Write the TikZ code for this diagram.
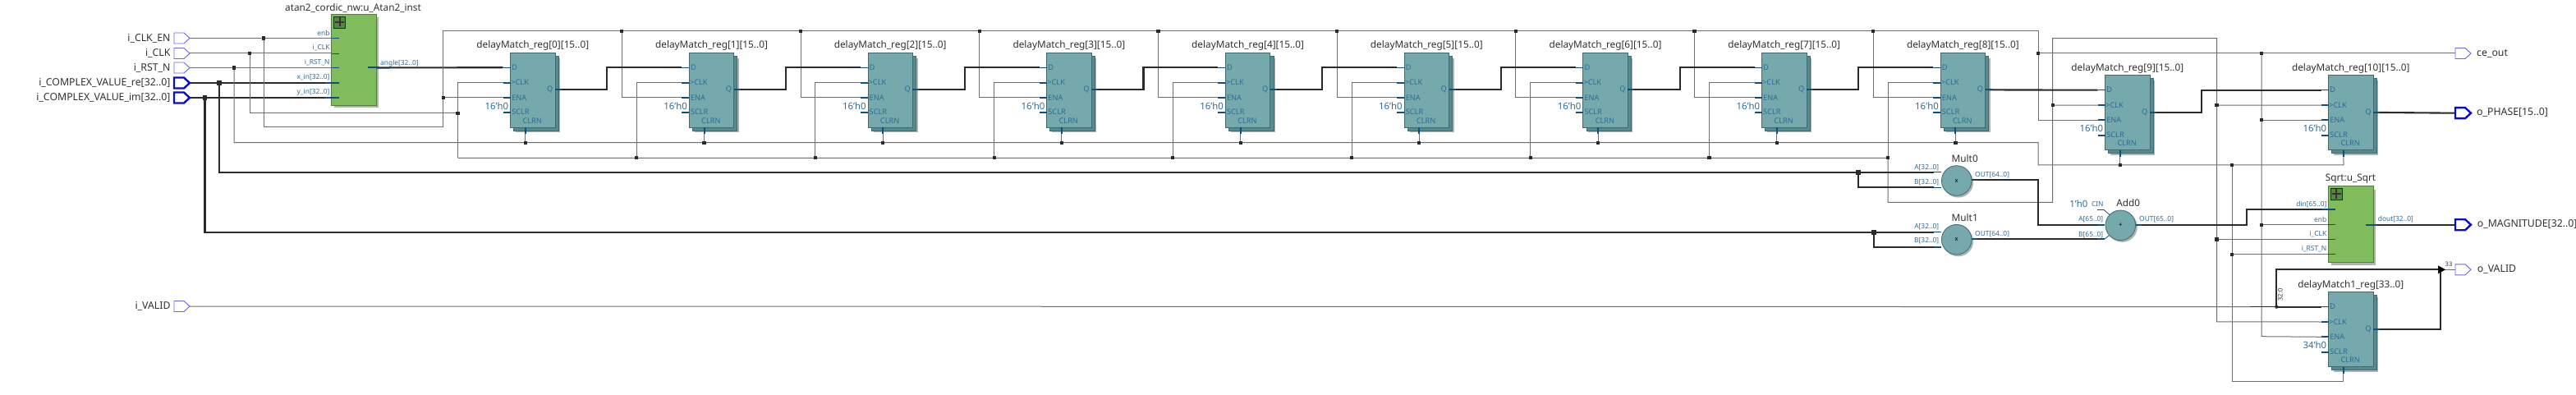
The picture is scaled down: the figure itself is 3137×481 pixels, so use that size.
\documentclass[tikz,border=0pt]{standalone}
\usepackage{fontspec}
\setmainfont{Noto Sans}
\usetikzlibrary{calc}
\pgfdeclarelayer{wires}
\pgfsetlayers{wires,main}
\definecolor{tealfill}{HTML}{75A9AC}
\definecolor{tealdark}{HTML}{568A8E}
\definecolor{tealedge}{HTML}{3F6A6E}
\definecolor{greenfill}{HTML}{80BC5C}
\definecolor{greenedge}{HTML}{4F7F3A}
\definecolor{portblue}{HTML}{2F6C96}
\definecolor{stubblue}{HTML}{0D4F7E}
\definecolor{wiregray}{HTML}{6E6E6E}
\definecolor{busdark}{HTML}{2A2A2A}
\definecolor{pinthin}{HTML}{6A66E0}
\definecolor{pinbus}{HTML}{0A0AD0}
\definecolor{titletext}{HTML}{303030}
\tikzset{
  wire/.style={draw=wiregray,line width=1pt},
  buswire/.style={draw=busdark,line width=2.1pt},
  stubthin/.style={draw=stubblue,line width=.8pt},
  stubmid/.style={draw=stubblue,line width=1.3pt},
  stubfat/.style={draw=stubblue,line width=2pt},
  regbox/.style={draw=tealedge,fill=tealfill,line width=.8pt,minimum width=54.4pt,minimum height=91pt,inner sep=0pt,outer sep=0pt,anchor=north west},
  regback/.style={draw=tealedge,fill=tealdark,line width=.6pt,minimum width=54.4pt,minimum height=91pt,inner sep=0pt,outer sep=0pt,anchor=north west},
  subbox/.style={draw=greenedge,fill=greenfill,line width=.8pt,inner sep=0pt,outer sep=0pt,anchor=north west},
  opcirc/.style={circle,draw=tealedge,fill=tealfill,line width=.8pt,minimum size=36.6pt,inner sep=0pt,outer sep=0pt},
  softshadow/.style={fill=black,fill opacity=.3},
  blocktitle/.style={text=titletext,font=\fontsize{11.8}{13}\selectfont,inner sep=0pt},
  pinlabel/.style={text=titletext,font=\fontsize{12.3}{13}\selectfont,inner sep=0pt},
  portlabel/.style={text=portblue,font=\fontsize{9.2}{10}\selectfont,inner sep=0pt},
  buslabel/.style={text=portblue,font=\fontsize{8.4}{9}\selectfont,inner sep=0pt},
  initlabel/.style={text=portblue,font=\fontsize{11.4}{12}\selectfont,inner sep=0pt},
  tinylabel/.style={text=titletext,font=\fontsize{7.6}{9}\selectfont,inner sep=0pt},
  pinthinstyle/.style={draw=pinthin,fill=white,line width=.9pt,line join=miter},
  pinbusstyle/.style={draw=pinbus,fill=white,line width=2.4pt,line join=miter},
  plusicon/.style={draw=black!75!green,line width=.7pt},
}
\newcommand{\jdot}[1]{\fill[busdark] ($(#1)+(-2.1,-2.1)$) rectangle ($(#1)+(2.1,2.1)$);}
\newcommand{\jbus}[1]{\fill[busdark] ($(#1)+(-2.9,-2.9)$) rectangle ($(#1)+(2.9,2.9)$);}
% name, x, y, title, init
\newcommand{\regblock}[5]{%
  \fill[softshadow] ({#2+6.5},{#3+6.5}) rectangle ({#2+60.6},{#3+97.2});
  \node[regback] (#1-back) at ({#2+4},{#3+4}) {};
  \node[regbox] (#1) at (#2,#3) {};
  \node[blocktitle] (#1-title) at ({#2+27.2},{#3-8.6}) {#4};
  \coordinate (#1-D) at ({#2-9},{#3+18});
  \coordinate (#1-CLK) at ({#2-9},{#3+36.4});
  \coordinate (#1-ENA) at ({#2-9},{#3+54.7});
  \coordinate (#1-SCLR) at ({#2-9},{#3+73.2});
  \coordinate (#1-Q) at ({#2+54.4},{#3+45.2});
  \coordinate (#1-R) at ({#2+18.2},{#3+91});
  \draw[stubmid] (#1-D) -- ++(9,0);
  \draw[stubfat] (#1-CLK) -- ++(9,0);
  \draw[stubfat] (#1-ENA) -- ++(9,0);
  \draw[stubfat] (#1-SCLR) -- ++(9,0);
  \draw[stubfat] (#1-Q) -- ++(8,0);
  \draw[stubfat] (#1-R) -- ++(0,8);
  \node[portlabel,anchor=west] (#1-lD) at ({#2+1.5},{#3+18}) {D};
  \node[portlabel,anchor=west] (#1-lC) at ({#2+.5},{#3+36.4}) {>CLK};
  \node[portlabel,anchor=west] (#1-lE) at ({#2+1.5},{#3+54.7}) {ENA};
  \node[portlabel,anchor=west] (#1-lS) at ({#2+1.5},{#3+72.4}) {SCLR};
  \node[portlabel] (#1-lR) at ({#2+26.6},{#3+82.8}) {CLRN};
  \node[portlabel,anchor=east] (#1-lQ) at ({#2+52},{#3+45.2}) {Q};
  \node[initlabel,anchor=east] (#1-init) at ({#2-2.2},{#3+65}) {#5};
}
% name, x, y  (pin body left edge / centre y), style, edge
\newcommand{\pinshape}[4]{%
  \draw[#4] (#2,{#3-6.5}) -- ({#2+12},{#3-6.5}) -- ({#2+19},#3) -- ({#2+12},{#3+6.5}) -- (#2,{#3+6.5}) -- cycle;
  \coordinate (#1-l) at (#2,#3);
  \coordinate (#1) at ({#2+19},#3);
}
\newcommand{\plusmark}[3]{%
  \draw[plusicon,fill=greenfill!70!black] (#2,#3) rectangle ({#2+14},{#3+14});
  \draw[draw=black!80,line width=1.6pt] ({#2+1.5},{#3+7}) -- ({#2+12.5},{#3+7});
  \draw[draw=black!80,line width=1.6pt] ({#2+7},{#3+1.5}) -- ({#2+7},{#3+12.5});
}
\begin{document}
\begin{tikzpicture}[x=1pt,y=-1pt]
\useasboundingbox (0,0) rectangle (3137,481);
\begin{pgfonlayer}{wires}
\fill[white] (0,0) rectangle (3137,481);
\end{pgfonlayer}

% ---------- pins ----------
\pinshape{pEn}{212}{46.5}{pinthinstyle}
\pinshape{pClk}{212}{65}{pinthinstyle}
\pinshape{pRst}{212}{82.5}{pinthinstyle}
\pinshape{pRe}{212}{101}{pinbusstyle}
\pinshape{pIm}{212}{119}{pinbusstyle}
\pinshape{pVal}{212}{373}{pinthinstyle}
\pinshape{pCe}{2990}{65}{pinthinstyle}
\pinshape{pPh}{2990}{137.7}{pinbusstyle}
\pinshape{pMag}{2990}{273.7}{pinbusstyle}
\pinshape{pOv}{2990}{328.3}{pinthinstyle}
\node[pinlabel,anchor=east] (tEn) at (207.7,46.5) {i\_CLK\_EN};
\node[pinlabel,anchor=east] (tClk) at (207.7,65) {i\_CLK};
\node[pinlabel,anchor=east] (tRst) at (207.7,82.5) {i\_RST\_N};
\node[pinlabel,anchor=east] (tRe) at (207.7,100.5) {i\_COMPLEX\_VALUE\_re[32..0]};
\node[pinlabel,anchor=east] (tIm) at (207.7,118.5) {i\_COMPLEX\_VALUE\_im[32..0]};
\node[pinlabel,anchor=east] (tVal) at (207.7,373) {i\_VALID};
\node[pinlabel,anchor=west] (tCe) at (3016,65) {ce\_out};
\node[pinlabel,anchor=west] (tPh) at (3016,137.2) {o\_PHASE[15..0]};
\node[pinlabel,anchor=west] (tMag) at (3016.7,273.2) {o\_MAGNITUDE[32..0]};
\node[pinlabel,anchor=west] (tOv) at (3016.7,328) {o\_VALID};

% ---------- atan2 block ----------
\fill[softshadow] (407,21) rectangle (461,131.5);
\node[subbox,minimum width=54.4pt,minimum height=111pt] (atan) at (403.7,17.2) {};
\plusmark{atanp}{406.7}{20}
\node[blocktitle] (atanT) at (430,10) {atan2\_cordic\_nw:u\_Atan2\_inst};
\coordinate (aEnb) at (412.7,46.5);
\coordinate (aClk) at (412.7,65);
\coordinate (aRst) at (412.7,82.5);
\coordinate (aX) at (412.7,101);
\coordinate (aY) at (412.7,119);
\coordinate (aOut) at (448,82.5);
\draw[stubthin] (aEnb) -- ++(-9,0);
\draw[stubthin] (aClk) -- ++(-9,0);
\draw[stubthin] (aRst) -- ++(-9,0);
\draw[stubfat] (aX) -- ++(-17,0);
\draw[stubfat] (aY) -- ++(-17,0);
\draw[stubfat] (aOut) -- ++(14,0);
\node[buslabel,anchor=east] (laEn) at (401.7,40) {enb};
\node[buslabel,anchor=east] (laCl) at (401.7,58.5) {i\_CLK};
\node[buslabel,anchor=east] (laRs) at (401.7,76.5) {i\_RST\_N};
\node[buslabel,anchor=east] (laX) at (401.7,94) {x\_in[32..0]};
\node[buslabel,anchor=east] (laY) at (401.7,112.5) {y\_in[32..0]};
\node[buslabel,anchor=west] (laO) at (463,77) {angle[32..0]};

% ---------- registers ----------
\foreach \i in {0,...,8}{
  \pgfmathsetmacro{\xx}{621.6+217.7*\i}
  \regblock{r\i}{\xx}{64.2}{delayMatch\_reg[\i][15..0]}{16'h0}
}
\regblock{r9}{2563.6}{91.7}{delayMatch\_reg[9][15..0]}{16'h0}
\regblock{r10}{2835.6}{91.7}{delayMatch\_reg[10][15..0]}{16'h0}
\regblock{rv}{2835.6}{355.6}{delayMatch1\_reg[33..0]}{34'h0}

% ---------- sqrt ----------
\fill[softshadow] (2839,231) rectangle (2893,322.5);
\node[subbox,minimum width=54.4pt,minimum height=92.5pt] (sq) at (2835.6,226.8) {};
\plusmark{sqp}{2838}{229}
\node[blocktitle] (sqT) at (2862.5,218) {Sqrt:u\_Sqrt};
\coordinate (sDin) at (2844,255.3);
\coordinate (sEnb) at (2844,273.7);
\coordinate (sClk) at (2844,291.5);
\coordinate (sRst) at (2844,309.7);
\coordinate (sOut) at (2881,273.7);
\draw[stubfat] (sDin) -- ++(-17,0);
\draw[stubthin] (sEnb) -- ++(-9,0);
\draw[stubthin] (sClk) -- ++(-9,0);
\draw[stubthin] (sRst) -- ++(-9,0);
\draw[stubfat] (sOut) -- ++(14,0);
\node[buslabel,anchor=east] (lsD) at (2833.5,248.7) {din[65..0]};
\node[buslabel,anchor=east] (lsE) at (2833.5,267.3) {enb};
\node[buslabel,anchor=east] (lsC) at (2833.5,285.3) {i\_CLK};
\node[buslabel,anchor=east] (lsR) at (2833.5,303.3) {i\_RST\_N};
\node[buslabel,anchor=west] (lsO) at (2895.7,267) {dout[32..0]};

% ---------- operators ----------
\fill[softshadow] (2384.7,222.2) circle (18.4);
\fill[softshadow] (2384.7,293.9) circle (18.4);
\fill[softshadow] (2584.4,276.5) circle (18.4);
\node[opcirc,font=\fontsize{7.5}{9}\selectfont] (m0) at (2382.7,220) {x};
\node[opcirc,font=\fontsize{7.5}{9}\selectfont] (m1) at (2382.7,291.7) {x};
\node[opcirc,font=\fontsize{8}{9}\selectfont] (ad) at (2582.3,274.3) {+};
\node[blocktitle] (m0T) at (2392.7,192.7) {Mult0};
\node[blocktitle] (m1T) at (2392.7,265) {Mult1};
\node[blocktitle] (adT) at (2591.7,247.3) {Add0};
\coordinate (m0A) at (2355,209.7);
\coordinate (m0B) at (2355,228.3);
\coordinate (m0O) at (2400.5,219.3);
\coordinate (m1A) at (2355,282.7);
\coordinate (m1B) at (2355,301);
\coordinate (m1O) at (2400.5,291);
\coordinate (adA) at (2554,274);
\coordinate (adB) at (2554,291);
\coordinate (adO) at (2600.5,274);
\coordinate (adC) at (2554,255.5);
\foreach \p in {m0A,m0B,m1A,m1B,adA,adB}{\draw[stubmid] (\p) -- ++(9.3,0);}
\foreach \p in {m0O,m1O,adO}{\draw[stubmid] (\p) -- ++(7,0);}
\draw[stubthin] (adC) -- ++(8,0) -- ++(7,6);
\draw[stubthin] (2563.3,291) -- ++(5,-4.3);
\node[buslabel,anchor=east] (lm0A) at (2361.3,204.3) {A[32..0]};
\node[buslabel,anchor=east] (lm0B) at (2361.3,221.7) {B[32..0]};
\node[buslabel,anchor=west] (lm0O) at (2405,213) {OUT[64..0]};
\node[buslabel,anchor=east] (lm1A) at (2361.3,276) {A[32..0]};
\node[buslabel,anchor=east] (lm1B) at (2361.3,293.3) {B[32..0]};
\node[buslabel,anchor=west] (lm1O) at (2405,285) {OUT[64..0]};
\node[buslabel,anchor=east] (ladA) at (2561.3,267.3) {A[65..0]};
\node[buslabel,anchor=east] (ladB) at (2561.3,285.7) {B[65..0]};
\node[buslabel,anchor=west] (ladO) at (2605,267.3) {OUT[65..0]};
\node[initlabel,anchor=east] (lad1) at (2542.5,248) {1'h0};
\node[buslabel] (ladC) at (2554.3,249) {CIN};
\node[tinylabel] (l33) at (2982,322) {33};
\node[tinylabel,rotate=90] (l32) at (2777,359) {32:0};

% ---------- wires ----------
\begin{pgfonlayer}{wires}
\coordinate (jEn) at (321,46.5);
\coordinate (jClk) at (304,65);
\coordinate (jRst) at (285,82.5);
\coordinate (jX) at (267,101);
\coordinate (jY) at (249.5,119);
\draw[wire] (pEn) -- (aEnb);
\draw[wire] (pClk) -- (aClk);
\draw[wire] (pRst) -- (aRst);
\draw[buswire] (pRe) -- (aX);
\draw[buswire] (pIm) -- (aY);
\draw[buswire] (aOut) -- (r0-D);
% enable net
\coordinate (e1) at (539.6,155);
\coordinate (e0) at (539.6,38);
\coordinate (e3) at (2482,38);
\coordinate (jCe) at (2482,65);
\coordinate (jE9) at (2754,146.4);
\coordinate (jCe2) at (2754,65);
\coordinate (eLow) at (2754,409.7);
\coordinate (jSe) at (2754,273.7);
\draw[wire] (jEn) |- (e1) -- (e0) -- (e3) -- (e3 |- r9-ENA) -- (r9-ENA);
\draw[wire] (jCe) -- (pCe-l);
\draw[wire] (jCe2) -- (eLow) -- (rv-ENA);
\draw[wire] (jE9) -- (r10-ENA);
\draw[wire] (jSe) -- (sEnb);
\foreach \i in {0,...,8}{
  \pgfmathsetmacro{\xx}{539.6+217.7*\i}
  \coordinate (ee\i) at (\xx,38);
  \draw[wire] (ee\i) |- (r\i-ENA);
}
\foreach \i in {1,...,8}{\jdot{ee\i}}
\coordinate (jE0) at (539.6,118.9);
% clock net
\coordinate (c0) at (557.5,137.7);
\coordinate (cBot) at (2299.1,246.3);
\coordinate (c9a) at (2499.6,246.3);
\coordinate (c9b) at (2499.6,46.7);
\coordinate (c9c) at (2699.5,46.7);
\coordinate (c9d) at (2699.5,391.9);
\coordinate (jC9) at (2499.6,128.1);
\coordinate (jC10) at (2699.5,128.1);
\coordinate (jCs) at (2699.5,291.5);
\foreach \i in {0,...,8}{
  \pgfmathsetmacro{\xx}{557.5+217.7*\i}
  \coordinate (cc\i) at (\xx,192.3);
  \draw[wire] (cc\i) |- (r\i-CLK);
}
\draw[wire] (jClk) |- (c0);
\draw[wire] (cc0) -- (cc8) -- (cBot) -- (c9a) -- (c9b) -- (c9c) -- (c9d) -- (rv-CLK);
\draw[wire] (jC9) -- (r9-CLK);
\draw[wire] (jC10) -- (r10-CLK);
\draw[wire] (jCs) -- (sClk);
\foreach \i in {1,...,8}{\jdot{cc\i}}
% reset net
\coordinate (q1) at (2482,173.7);
\coordinate (q2) at (2482,201);
\coordinate (q3) at (2854,201);
\coordinate (jR10) at (2718,201);
\coordinate (q4) at (2718,464);
\coordinate (jRs) at (2718,309.7);
\coordinate (jR9) at (2581.8,201);
\draw[wire] (jRst) |- (q1) -- (q2) -- (q3) -- (r10-R);
\draw[wire] (jR10) -- (q4) -| (rv-R);
\draw[wire] (jRs) -- (sRst);
\draw[wire] (jR9) -- (r9-R);
\foreach \i in {0,...,8}{
  \pgfmathsetmacro{\xx}{639.8+217.7*\i}
  \coordinate (rr\i) at (\xx,173.7);
  \draw[wire] (rr\i) -- (r\i-R);
  \jdot{rr\i}
}
% data chain
\foreach \i/\j in {0/1,1/2,2/3,3/4,4/5,5/6,6/7,7/8}{
  \pgfmathsetmacro{\xx}{739.4+217.7*\i}
  \coordinate (k\j) at (\xx,95);
  \draw[buswire] (r\i-Q) -| (k\j) |- (r\j-D);
}
\draw[buswire] (r8-Q) -- (r9-D);
\coordinate (k10) at (2681,120);
\draw[buswire] (r9-Q) -| (k10) |- (r10-D);
\draw[buswire] (r10-Q) -- (pPh-l);
% multipliers
\coordinate (jM0) at (2263.3,209.7);
\coordinate (jM1) at (2282,282.7);
\draw[buswire] (jX) |- (m0A);
\draw[buswire] (jM0) |- (m0B);
\draw[buswire] (jY) |- (m1A);
\draw[buswire] (jM1) |- (m1B);
\coordinate (mk) at (2482.3,250);
\draw[buswire] (m0O) -| (mk) |- (adA);
\draw[buswire] (m1O) -- (adB);
\coordinate (ak) at (2735.7,265);
\draw[buswire] (adO) -| (ak) |- (sDin);
\draw[buswire] (sOut) -- (pMag-l);
% valid
\coordinate (vd) at (2772.3,373.6);
\coordinate (vt) at (2772.3,328.3);
\coordinate (vq) at (2972,328.3);
\coordinate (vm) at (2740,373.6);
\draw[wire] (pVal) -- (vm);
\draw[busdark,line width=1.2pt] (vm) -- (vd);
\draw[buswire] (vd) -- (rv-D);
\draw[buswire] (vd) -- (vt) -- (vq);
\draw[buswire] (rv-Q) -| (vq);
\draw[wire] (vq) -- (pOv-l);
\fill[black] ($(vq)+(-3,-5)$) -- ($(vq)+(6,0)$) -- ($(vq)+(-3,5)$) -- cycle;
\fill[busdark] (vd) circle (2.2);
% junctions
\foreach \p in {jEn,jClk,jRst,c0,jCe,jCe2,jE9,jSe,jE0,jC9,jC10,jCs,jR9,jR10,jRs}{\jdot{\p}}
\foreach \p in {jX,jY,jM0,jM1}{\jbus{\p}}
\end{pgfonlayer}
\end{tikzpicture}
\end{document}
